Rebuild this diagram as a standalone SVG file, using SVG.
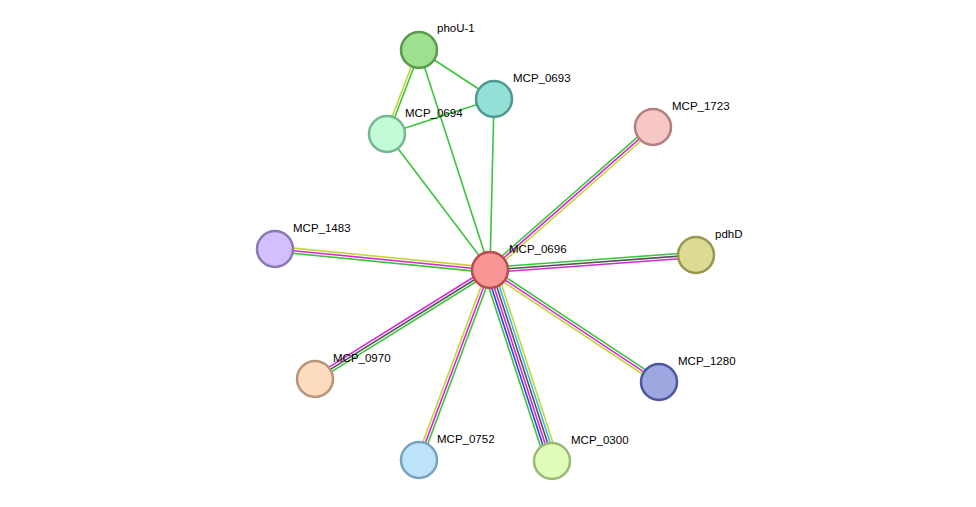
<svg xmlns="http://www.w3.org/2000/svg" width="976" height="507" viewBox="0 0 976 507">
<style>
line{stroke-width:1.6;fill:none}
.g{stroke:#3cc43c}.m{stroke:#d62ad6}.y{stroke:#c2d63a}.k{stroke:#555}.b{stroke:#2f3cf0}.c{stroke:#3cb8e0}
circle{stroke-width:2.5}
text{font-family:"Liberation Sans",Arial,sans-serif;font-size:11.5px;fill:#000}
</style>
<rect width="976" height="507" fill="#fff"/>
<g id="edges">
<line class="g" x1="419" y1="50" x2="494" y2="99"/>
<line class="g" x1="419" y1="50" x2="490" y2="270"/>
<line class="g" x1="387" y1="134" x2="494" y2="99"/>
<line class="g" x1="387" y1="134" x2="490" y2="270"/>
<line class="g" x1="494" y1="99" x2="490" y2="270"/>
<g transform="translate(419,50) rotate(110.9)"><line class="g" x1="0" y1="-1.3" x2="90" y2="-1.3"/><line class="y" x1="0" y1="1.3" x2="90" y2="1.3"/></g>
<g transform="translate(490,270) rotate(-41.3)"><line class="g" x1="0" y1="-2.6" x2="217" y2="-2.6"/><line class="m" x1="0" y1="0" x2="217" y2="0"/><line class="y" x1="0" y1="2.6" x2="217" y2="2.6"/></g>
<g transform="translate(490,270) rotate(-4.2)"><line class="g" x1="0" y1="-2.6" x2="207" y2="-2.6"/><line class="k" x1="0" y1="0" x2="207" y2="0"/><line class="m" x1="0" y1="2.6" x2="207" y2="2.6"/></g>
<g transform="translate(490,270) rotate(185.6)"><line class="g" x1="0" y1="-2.6" x2="216" y2="-2.6"/><line class="m" x1="0" y1="0" x2="216" y2="0"/><line class="y" x1="0" y1="2.6" x2="216" y2="2.6"/></g>
<g transform="translate(490,270) rotate(148.1)"><line class="g" x1="0" y1="-2.6" x2="206" y2="-2.6"/><line class="k" x1="0" y1="0" x2="206" y2="0"/><line class="m" x1="0" y1="2.6" x2="206" y2="2.6"/></g>
<g transform="translate(490,270) rotate(110.5)"><line class="g" x1="0" y1="-2.6" x2="203" y2="-2.6"/><line class="m" x1="0" y1="0" x2="203" y2="0"/><line class="y" x1="0" y1="2.6" x2="203" y2="2.6"/></g>
<g transform="translate(490,270) rotate(72)"><line class="y" x1="0" y1="-6.5" x2="201" y2="-6.5"/><line class="c" x1="0" y1="-3.9" x2="201" y2="-3.9"/><line class="k" x1="0" y1="-1.3" x2="201" y2="-1.3"/><line class="m" x1="0" y1="1.3" x2="201" y2="1.3"/><line class="b" x1="0" y1="3.9" x2="201" y2="3.9"/><line class="g" x1="0" y1="6.5" x2="201" y2="6.5"/></g>
<g transform="translate(490,270) rotate(33.5)"><line class="g" x1="0" y1="-2.6" x2="203" y2="-2.6"/><line class="m" x1="0" y1="0" x2="203" y2="0"/><line class="y" x1="0" y1="2.6" x2="203" y2="2.6"/></g>
</g>
<g id="phoU-1"><circle cx="419" cy="50" r="18" fill="#9fe08f" stroke="#5a9a4e"/><text x="437" y="32">phoU-1</text></g>
<g id="MCP_0693"><circle cx="494" cy="99" r="18" fill="#92e0d6" stroke="#4e9a91"/><text x="513" y="82">MCP_0693</text></g>
<g id="MCP_0694"><circle cx="387" cy="134" r="18" fill="#c3fbd9" stroke="#74b890"/><text x="405" y="117">MCP_0694</text></g>
<g id="MCP_1723"><circle cx="653" cy="127" r="18" fill="#f7c6c6" stroke="#b37e7e"/><text x="672" y="110">MCP_1723</text></g>
<g id="MCP_1483"><circle cx="275" cy="249" r="18" fill="#d2bffb" stroke="#8a78b7"/><text x="293" y="232">MCP_1483</text></g>
<g id="pdhD"><circle cx="696" cy="255" r="18" fill="#dcda94" stroke="#989650"/><text x="715" y="238">pdhD</text></g>
<g id="MCP_0696"><circle cx="490" cy="270" r="18" fill="#fa9595" stroke="#b54f4f"/><text x="509" y="253">MCP_0696</text></g>
<g id="MCP_0970"><circle cx="315" cy="379" r="18" fill="#fddbbe" stroke="#b89478"/><text x="333" y="362">MCP_0970</text></g>
<g id="MCP_1280"><circle cx="659" cy="382" r="18" fill="#9ea7e0" stroke="#4d57a0"/><text x="678" y="365">MCP_1280</text></g>
<g id="MCP_0752"><circle cx="419" cy="460" r="18" fill="#bde4fb" stroke="#78a3bd"/><text x="437" y="443">MCP_0752</text></g>
<g id="MCP_0300"><circle cx="552" cy="461" r="18" fill="#e0feba" stroke="#9bba76"/><text x="571" y="444">MCP_0300</text></g>
</svg>
